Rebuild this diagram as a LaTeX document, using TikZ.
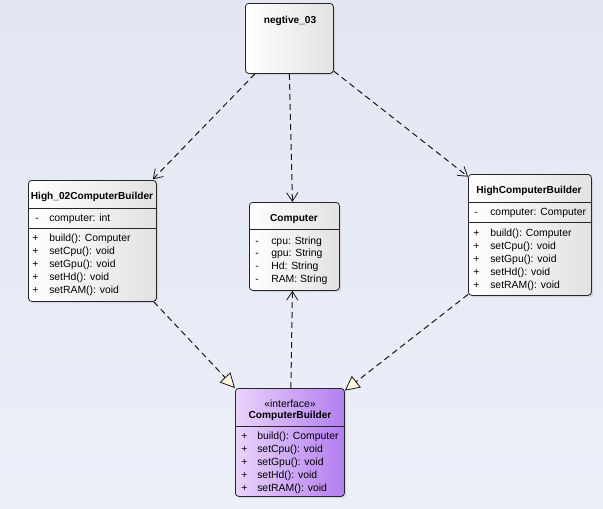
\documentclass[tikz,border=0pt]{standalone}
\usepackage{fontspec}
\setmainfont{Liberation Sans}
\usetikzlibrary{arrows.meta,shadows,calc}
\definecolor{bgtop}{HTML}{E3E7F3}
\definecolor{bgbot}{HTML}{ECEFF8}
\definecolor{boxr}{HTML}{E2E2E2}
\definecolor{purl}{HTML}{EAD3FC}
\definecolor{purr}{HTML}{B27EF0}
\definecolor{tri}{HTML}{FFF4DE}
\tikzset{
  umlbox/.style={draw=black!85, line width=0.6pt, rounded corners=2.5pt, anchor=north west,
    left color=white, right color=boxr, inner sep=0pt,
    drop shadow={shadow xshift=1.2pt, shadow yshift=-1.2pt, fill=black!25, opacity=0.5}},
  ifbox/.style={umlbox, left color=purl, right color=purr},
  ttl/.style={font=\fontsize{7.6}{9}\selectfont\bfseries, anchor=base},
  txt/.style={font=\fontsize{7.8}{9}\selectfont, anchor=base west, inner sep=0pt},
  sep/.style={draw=black!85, line width=0.6pt},
  dep/.style={draw=black!90, line width=0.75pt, dash pattern=on 4.5pt off 3pt,
    -{Straight Barb[length=6.5pt,width=8.5pt,line width=0.6pt]}},
  real/.style={draw=black!90, line width=0.75pt, dash pattern=on 4.5pt off 3pt,
    -{Triangle[open,length=11pt,width=11pt,line width=0.6pt,fill=tri]}},
}
\begin{document}
\begin{tikzpicture}[x=0.75pt,y=-0.75pt]
\useasboundingbox (0,0) rectangle (603,508);
\shade[top color=bgtop,bottom color=bgbot] (0,0) rectangle (603,508);

% boxes
\node[umlbox, minimum width=66pt, minimum height=52.5pt] (neg) at (245,3) {};
\node[ttl] (negt) at (290,23) {negtive\_03};

\node[umlbox, minimum width=96pt, minimum height=90.75pt] (h2) at (28,180) {};
\node[ttl] (h2t) at (92,199) {High\_02ComputerBuilder};
\draw[sep] (28,208) -- (156,208);
\node[txt] (h2a0) at (35,221) {-};
\node[txt] (h2a1) at (49,221) {computer: int};
\draw[sep] (28,228) -- (156,228);
\foreach \i/\t in {0/build(): Computer,1/setCpu(): void,2/setGpu(): void,3/setHd(): void,4/setRAM(): void}{
  \node[txt] (h2p\i) at (32,241+13*\i) {+};
  \node[txt] (h2m\i) at (49,241+13*\i) {\t};
}

\node[umlbox, minimum width=67.5pt, minimum height=66pt] (comp) at (249,202) {};
\node[ttl] (compt) at (294,221) {Computer};
\draw[sep] (249,229) -- (339,229);
\foreach \i/\t in {0/cpu: String,1/gpu: String,2/Hd: String,3/RAM: String}{
  \node[txt] (cd\i) at (255,244+12.7*\i) {-};
  \node[txt] (cm\i) at (271,244+12.7*\i) {\t};
}

\node[umlbox, minimum width=92.25pt, minimum height=90.75pt] (hc) at (468,174) {};
\node[ttl] (hct) at (529,193) {HighComputerBuilder};
\draw[sep] (468,202) -- (591,202);
\node[txt] (hca0) at (474,215) {-};
\node[txt] (hca1) at (490,215) {computer: Computer};
\draw[sep] (468,222) -- (591,222);
\foreach \i/\t in {0/build(): Computer,1/setCpu(): void,2/setGpu(): void,3/setHd(): void,4/setRAM(): void}{
  \node[txt] (hcp\i) at (473,236+13*\i) {+};
  \node[txt] (hcm\i) at (490,236+13*\i) {\t};
}

\node[ifbox, minimum width=81.75pt, minimum height=81pt] (cb) at (235,388) {};
\node[font=\fontsize{7.8}{9}\selectfont, anchor=base] (cbs) at (290,407) {«interface»};
\node[ttl] (cbt) at (290,418) {ComputerBuilder};
\draw[sep] (235,426) -- (344,426);
\foreach \i/\t in {0/build(): Computer,1/setCpu(): void,2/setGpu(): void,3/setHd(): void,4/setRAM(): void}{
  \node[txt] (cbp\i) at (241,439+13*\i) {+};
  \node[txt] (cbm\i) at (257,439+13*\i) {\t};
}

% connectors
\draw[dep] ([xshift=7.5pt]neg.south west) -- ([xshift=-3pt,yshift=0.5pt]h2.north east);
\draw[dep] (neg.south) -- ([xshift=-1.5pt]comp.north);
\draw[dep] ([yshift=2pt]neg.south east) -- ([yshift=-2pt]hc.north west);
\draw[real] ([xshift=-2.25pt]h2.south east) -- (cb.north west);
\draw[real] ([yshift=1pt]hc.south west) -- ([yshift=-2pt]cb.north east);
\draw[dep] ([xshift=0.75pt]cb.north) -- ([xshift=-1.5pt]comp.south);
\end{tikzpicture}
\end{document}
